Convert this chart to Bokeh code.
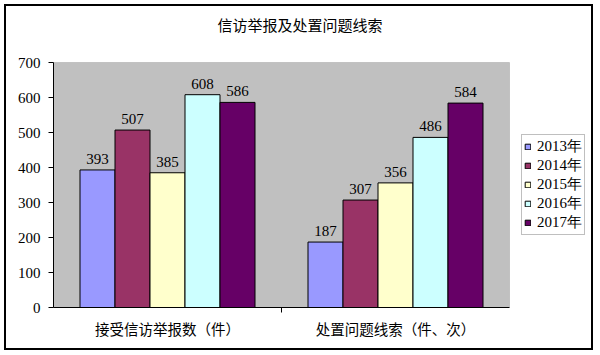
from bokeh.plotting import figure
from bokeh.models import (ColumnDataSource, Range1d, FixedTicker, Legend, LegendItem,
                          BoxAnnotation, Label)
from bokeh.transform import dodge
from bokeh.core.properties import value
from bokeh.embed import file_html
from bokeh.resources import INLINE

# ---- data ----
title_text = "信访举报及处置问题线索"
categories = ["接受信访举报数（件）", "处置问题线索（件、次）"]
years = ["2013年", "2014年", "2015年", "2016年", "2017年"]
values_2013 = [393, 187]
values_2014 = [507, 307]
values_2015 = [385, 356]
values_2016 = [608, 486]
values_2017 = [586, 584]
series = [values_2013, values_2014, values_2015, values_2016, values_2017]
colors = ["#9999FF", "#993366", "#FFFFCC", "#CCFFFF", "#660066"]
y_ticks = [0, 100, 200, 300, 400, 500, 600, 700]
y_max = 700

cat_x = [i + 0.5 for i in range(len(categories))]
n_cat = len(categories)

SERIF = "Liberation Serif"
CJK = "Noto Sans CJK SC"

# layout (page pixels); figure canvas is offset by 6px inside a drawn border
OFF = 6
W, H = 585, 342
area_left, area_right, area_top, area_bottom = 53, 509, 62, 307
frame_right, frame_top = 590, 8
title_cx, title_cy = 299.5, 24
cat_px = (area_right - area_left) / n_cat
y_px = (area_bottom - area_top) / y_max
x_end = (frame_right - area_left) / cat_px
y_end = (area_bottom - frame_top) / y_px

p = figure(width=W, height=H, output_backend="svg", toolbar_location=None,
           x_range=Range1d(0, x_end), y_range=Range1d(0, y_end),
           min_border_left=area_left - OFF, min_border_right=W - (frame_right - OFF),
           min_border_top=frame_top - OFF, min_border_bottom=H - (area_bottom - OFF))

p.styles = {"margin-left": f"{OFF}px", "margin-top": f"{OFF}px",
            "box-shadow": "0 0 0 2px black"}

p.background_fill_color = "white"
p.border_fill_color = "white"
p.outline_line_color = None
p.xgrid.visible = False
p.ygrid.visible = False

# gray plot area spanning the category range and value range
area = BoxAnnotation(left=0, right=n_cat, bottom=0, top=y_max, level="underlay",
                     fill_color="#C0C0C0", fill_alpha=1,
                     line_color="#808080", line_width=1)
p.add_layout(area)

# title
title = Label(x=(title_cx - area_left) / cat_px, y=(area_bottom - title_cy) / y_px,
              text=title_text, text_align="center", text_baseline="middle",
              text_font=CJK, text_font_size="15px", text_color="black")
p.add_layout(title)

# axes
yax = p.yaxis[0]
yax.bounds = (0, y_max)
yax.ticker = FixedTicker(ticks=y_ticks)
yax.axis_line_color = "black"
yax.major_tick_line_color = "black"
yax.major_tick_out = 5
yax.major_tick_in = 0
yax.minor_tick_line_color = None
yax.major_label_standoff = 8
yax.major_label_text_font = SERIF
yax.major_label_text_font_size = "15px"
yax.major_label_text_color = "black"

xax = p.xaxis[0]
xax.bounds = (0, n_cat)
xax.ticker = FixedTicker(ticks=cat_x, minor_ticks=[float(i) for i in range(1, n_cat)])
xax.major_label_overrides = {x: c for x, c in zip(cat_x, categories)}
xax.axis_line_color = "black"
xax.major_tick_line_color = None
xax.major_tick_out = 0
xax.major_tick_in = 0
xax.minor_tick_line_color = "black"
xax.minor_tick_out = 5
xax.minor_tick_in = 0
xax.major_label_standoff = 5
xax.major_label_text_font = CJK
xax.major_label_text_font_size = "14.5px"
xax.major_label_text_color = "black"

# bars
bw = 35.0 / cat_px
items = []
for i, (yr, vals, col) in enumerate(zip(years, series, colors)):
    src = ColumnDataSource(dict(x=cat_x, top=vals, lbl=[str(v) for v in vals]))
    off = (i - (len(years) - 1) / 2) * bw
    r = p.vbar(x=dodge("x", off, range=p.x_range), top="top", width=bw, bottom=0,
               source=src, fill_color=col, line_color="black", line_width=1)
    p.text(x=dodge("x", off, range=p.x_range), y="top", text="lbl", source=src,
           text_align="center", text_baseline="bottom", y_offset=-6,
           text_font=value(SERIF), text_font_size="15px", text_color="black")
    items.append(LegendItem(label=yr, renderers=[r]))

legend = Legend(items=items, location=(521 - area_left, area_bottom - 235),
                orientation="vertical",
                background_fill_color="white", background_fill_alpha=1,
                border_line_color="#808080", border_line_width=1,
                glyph_width=7, glyph_height=7, label_standoff=6,
                label_height=19, spacing=0, padding=2, margin=0,
                label_text_font=SERIF, label_text_font_size="15px",
                label_text_color="black")
p.add_layout(legend)

open("out.html", "w").write(file_html(p, INLINE))
